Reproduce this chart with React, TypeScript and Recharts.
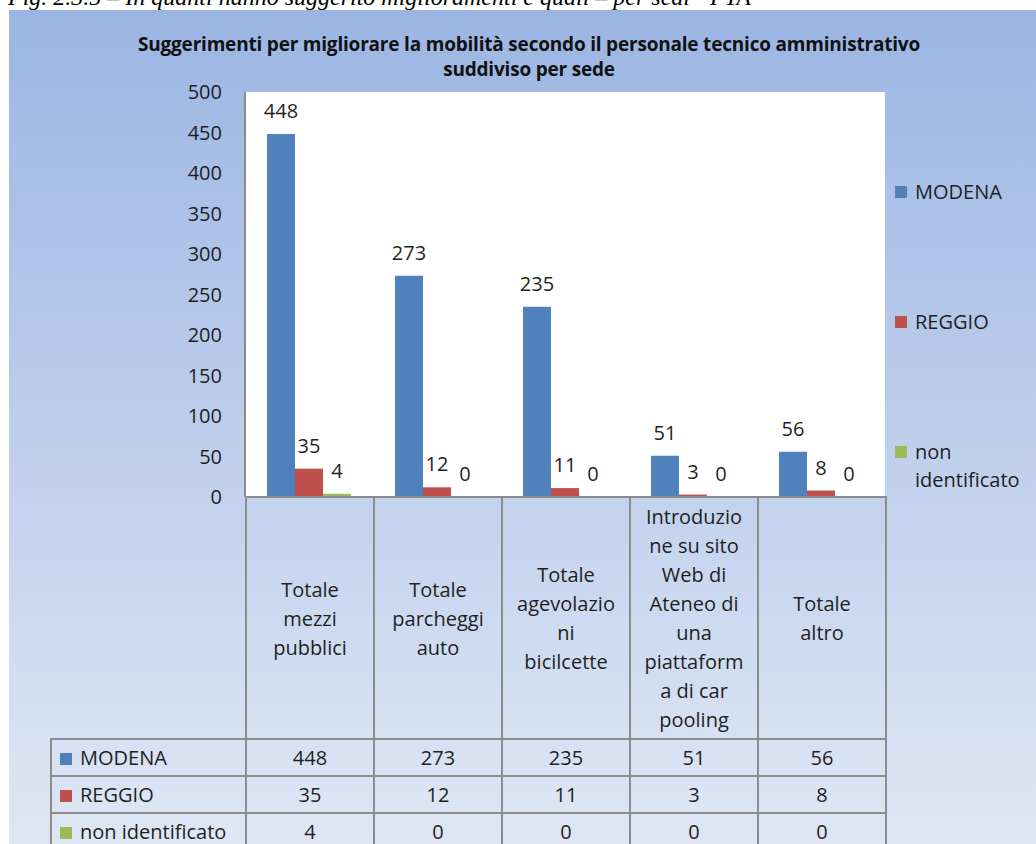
import React from 'react'
import { BarChart, Bar, XAxis, YAxis, CartesianGrid, LabelList, Legend } from 'recharts'

// values
const categories = [
  'Totale mezzi pubblici',
  'Totale parcheggi auto',
  'Totale agevolazioni bicilcette',
  'Introduzione su sito Web di Ateneo di una piattaforma di car pooling',
  'Totale altro',
]
// wrapped the way the spreadsheet wraps them
const categoryLines = [
  ['Totale', 'mezzi', 'pubblici'],
  ['Totale', 'parcheggi', 'auto'],
  ['Totale', 'agevolazio', 'ni', 'bicilcette'],
  ['Introduzio', 'ne su sito', 'Web di', 'Ateneo di', 'una', 'piattaform', 'a di car', 'pooling'],
  ['Totale', 'altro'],
]
const modena = [448, 273, 235, 51, 56]
const reggio = [35, 12, 11, 3, 8]
const nonIdentificato = [4, 0, 0, 0, 0]

const seriesKeys = ['modena', 'reggio', 'nonIdentificato']
const seriesNames = ['MODENA', 'REGGIO', 'non identificato']
const seriesValues = [modena, reggio, nonIdentificato]
const seriesColors = ['#4f81bd', '#c0504d', '#9bbb59']

const yTicks = [0, 50, 100, 150, 200, 250, 300, 350, 400, 450, 500]

const caption = 'Fig. 2.3.5 – In quanti hanno suggerito miglioramenti e quali – per sedi - PTA'
const titleLines = [
  'Suggerimenti per migliorare la mobilità secondo il personale tecnico amministrativo',
  'suddiviso per sede',
]

const data = categories.map((name, i) => ({
  name,
  modena: modena[i],
  reggio: reggio[i],
  nonIdentificato: nonIdentificato[i],
}))

const FONT = '"Open Sans", sans-serif'
const TEXT = '#1f1f1f'
const BORDER = '2px solid #8c8c8c'

function SideLegend(props: any) {
  const payload = props.payload || []
  return (
    <div style={{ position: 'relative', width: 141, height: 440 }}>
      {payload.map((p: any, i: number) => (
        <div
          key={p.value}
          style={{
            position: 'absolute',
            left: 0,
            top: 106 + 130 * i,
            width: 141,
            display: 'flex',
            alignItems: 'flex-start',
            fontFamily: FONT,
            fontSize: 20,
            lineHeight: '28px',
            color: TEXT,
          }}
        >
          <span style={{ width: 12, height: 12, marginTop: 8, marginRight: 8, background: p.color, flex: 'none' }} />
          <span>{p.value}</span>
        </div>
      ))}
    </div>
  )
}

function DataTable() {
  const cell: React.CSSProperties = { border: BORDER, padding: 0, textAlign: 'center', verticalAlign: 'middle' }
  return (
    <table
      style={{
        position: 'absolute',
        left: 50,
        top: 496,
        borderCollapse: 'collapse',
        tableLayout: 'fixed',
        width: 837,
        fontFamily: FONT,
        fontSize: 20,
        color: TEXT,
      }}
    >
      <colgroup>
        <col style={{ width: 195 }} />
        {categories.map(c => <col key={c} style={{ width: 128 }} />)}
      </colgroup>
      <tbody>
        <tr style={{ height: 242 }}>
          <td style={{ border: 'none' }} />
          {categoryLines.map((lines, i) => (
            <td key={i} style={{ ...cell, lineHeight: '29px' }}>
              {lines.map((l, j) => <div key={j}>{l}</div>)}
            </td>
          ))}
        </tr>
        {seriesNames.map((s, r) => (
          <tr key={s} style={{ height: 37 }}>
            <td style={{ ...cell, textAlign: 'left', paddingLeft: 8, whiteSpace: 'nowrap' }}>
              <span style={{ display: 'inline-block', width: 12, height: 12, background: seriesColors[r], marginRight: 8 }} />
              {s}
            </td>
            {seriesValues[r].map((v, i) => (
              <td key={i} style={cell}>{v}</td>
            ))}
          </tr>
        ))}
      </tbody>
    </table>
  )
}

export default function App() {
  return (
    <div style={{ position: 'absolute', left: 0, top: 0, width: 1036, height: 844, overflow: 'hidden', background: '#fff' }}>
      <div
        style={{
          position: 'absolute',
          left: 9,
          top: 10,
          width: 1027,
          height: 834,
          background: 'linear-gradient(to bottom, #9bb5e3 0%, #c5d4ee 62%, #dfe7f5 100%)',
        }}
      />
      <svg width={1036} height={844} style={{ position: 'absolute', left: 0, top: 0 }}>
        <text x={8} y={5} fontFamily='"Liberation Serif", serif' fontStyle="italic" fontSize={24} fill="#000">
          {caption}
        </text>
        {titleLines.map((t, i) => (
          <text
            key={i}
            x={529}
            y={51 + 25 * i}
            textAnchor="middle"
            fontFamily={FONT}
            fontWeight="bold"
            fontSize={19}
            letterSpacing={-0.2}
            fill="#111"
          >
            {t}
          </text>
        ))}
      </svg>

      <div style={{ position: 'absolute', left: 165, top: 72 }}>
        <BarChart
          width={871}
          height={450}
          data={data}
          margin={{ top: 20, right: 151, bottom: 25, left: 0 }}
          barGap={0}
          barSize={28}
        >
          <CartesianGrid fill="#ffffff" horizontal={false} vertical={false} />
          <XAxis dataKey="name" hide />
          <YAxis
            domain={[0, 500]}
            ticks={yTicks}
            interval={0}
            width={80}
            tickLine={false}
            tickSize={0}
            tickMargin={23}
            axisLine={{ stroke: '#8c8c8c', strokeWidth: 2 }}
            tick={{ fill: TEXT, fontSize: 20, fontFamily: FONT }}
          />
          <Legend
            layout="vertical"
            align="center"
            verticalAlign="middle"
            wrapperStyle={{ left: 730, top: 0, width: 141, height: 440 }}
            content={<SideLegend />}
          />
          {seriesKeys.map((k, i) => (
            <Bar
              key={k}
              dataKey={k}
              name={seriesNames[i]}
              fill={seriesColors[i]}
              minPointSize={0.01}
              isAnimationActive={false}
            >
              <LabelList dataKey={k} position="top" offset={16} fill={TEXT} fontSize={20} fontFamily={FONT} />
            </Bar>
          ))}
        </BarChart>
      </div>

      <DataTable />
    </div>
  )
}
